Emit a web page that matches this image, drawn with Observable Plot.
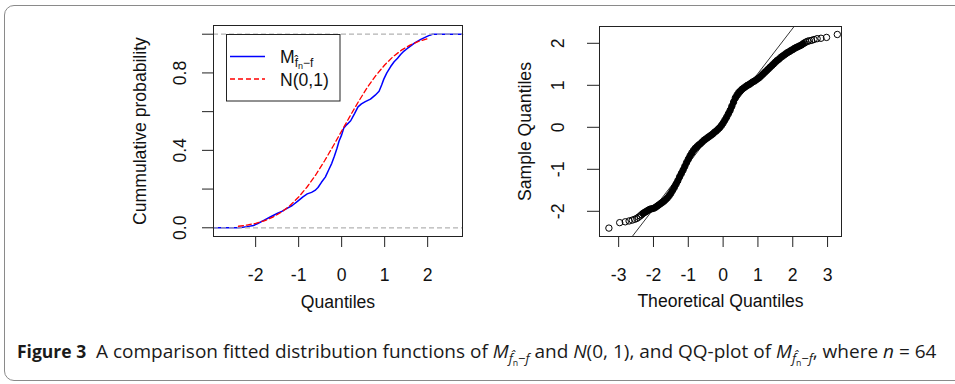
<!DOCTYPE html>
<html><head><meta charset="utf-8">
<script src="https://cdn.jsdelivr.net/npm/d3@7"></script>
<script src="https://cdn.jsdelivr.net/npm/@observablehq/plot@0.6"></script>
<style>
body{margin:0;background:#fff;}
#wrap{position:relative;width:955px;height:384px;overflow:hidden;background:#fff;}
#border{position:absolute;left:4px;top:5px;width:1000px;height:376px;border:1px solid #8a8a8a;border-radius:10px;box-sizing:border-box;}
#left{position:absolute;left:0;top:0;}
#right{position:absolute;left:480px;top:0;}
#caption{position:absolute;left:17px;top:339px;font-family:"Open Sans",sans-serif;font-size:19px;white-space:nowrap;color:#1a1a1a;line-height:24px;}
#caption b{font-size:17.5px;}
#caption sub{font-size:68%;vertical-align:-0.35em;line-height:0;}
</style></head>
<body><div id="wrap"><div id="border"></div><div id="left"></div><div id="right"></div>
<div id="caption"><b>Figure 3</b>&nbsp;&nbsp;A comparison fitted distribution functions of <i>M</i><sub><i>f&#770;</i><sub>n</sub>&minus;<i>f</i></sub> and <i>N</i>(0, 1), and QQ-plot of <i>M</i><sub><i>f&#770;</i><sub>n</sub>&minus;<i>f</i></sub>, where <i>n</i> = 64</div>
</div>
<script>
// ---- Left panel: empirical CDF of M and N(0,1) CDF ----
const ecdfX = [-2.98,-2.40,-2.30,-2.20,-2.05,-1.95,-1.81,-1.65,-1.50,-1.38,-1.27,-1.15,-1.02,-0.90,-0.80,-0.70,-0.62,-0.55,-0.47,-0.38,-0.30,-0.23,-0.17,-0.11,-0.06,0.00,0.05,0.12,0.21,0.30,0.38,0.46,0.55,0.67,0.78,0.87,0.93,0.98,1.05,1.14,1.22,1.30,1.37,1.45,1.52,1.60,1.70,1.84,1.95,2.05,2.11,2.81];
const ecdfY = [0,0,0.003,0.006,0.012,0.022,0.038,0.057,0.074,0.086,0.100,0.115,0.138,0.160,0.175,0.183,0.193,0.208,0.235,0.262,0.300,0.333,0.370,0.410,0.448,0.480,0.515,0.533,0.553,0.590,0.625,0.640,0.652,0.665,0.685,0.705,0.738,0.768,0.800,0.833,0.858,0.876,0.895,0.913,0.925,0.938,0.955,0.973,0.985,0.995,1.0,1.0];
const normX = [-2.4,-2.2,-2.0,-1.8,-1.6,-1.4,-1.2,-1.0,-0.8,-0.6,-0.4,-0.2,0.0,0.2,0.4,0.6,0.8,1.0,1.2,1.4,1.6,1.8,2.0];
const normY = [0.008,0.014,0.023,0.036,0.055,0.081,0.115,0.159,0.212,0.274,0.345,0.421,0.500,0.579,0.655,0.726,0.788,0.841,0.885,0.919,0.945,0.964,0.977];
const refLines = [0, 1];
const leftXTicks = [-2,-1,0,1,2];
const leftYTicks = [0,0.2,0.4,0.6,0.8,1.0];
const leftYLabels = [0,0.4,0.8];
const legendLabels = ["M", "N(0,1)"];

// ---- Right panel: normal QQ plot ----
const qqTheo = [-3.28,-2.97,-2.81,-2.70,-2.61,-2.54,-2.48,-2.43,-2.38,-2.34,
  -2.30,-2.26,-2.22,-2.18,-2.14,-2.10,-2.05,-2.00,-1.95,-1.90,
  -1.85,-1.80,-1.75,-1.70,-1.65,-1.60,-1.55,-1.50,-1.45,-1.40,
  -1.35,-1.30,-1.25,-1.20,-1.15,-1.10,-1.05,-1.00,-0.95,-0.90,
  -0.85,-0.80,-0.75,-0.70,-0.65,-0.60,-0.55,-0.50,-0.45,-0.40,
  -0.35,-0.30,-0.25,-0.20,-0.15,-0.10,-0.05,0.00,0.05,0.10,
  0.15,0.20,0.25,0.30,0.35,0.40,0.45,0.50,0.55,0.60,
  0.65,0.70,0.75,0.80,0.85,0.90,0.95,1.00,1.05,1.10,
  1.15,1.20,1.25,1.30,1.35,1.40,1.45,1.50,1.55,1.60,
  1.65,1.70,1.75,1.80,1.85,1.90,1.95,2.00,2.05,2.10,
  2.15,2.20,2.25,2.30,2.34,2.38,2.43,2.48,2.54,2.61,
  2.70,2.81,2.97,3.28];
const qqSample = [-2.40,-2.27,-2.25,-2.23,-2.21,-2.19,-2.17,-2.14,-2.11,-2.08,
  -2.05,-2.03,-2.01,-1.99,-1.97,-1.95,-1.94,-1.93,-1.91,-1.88,
  -1.85,-1.82,-1.79,-1.76,-1.72,-1.68,-1.63,-1.57,-1.50,-1.43,
  -1.35,-1.27,-1.18,-1.10,-1.02,-0.93,-0.84,-0.76,-0.68,-0.61,
  -0.55,-0.50,-0.46,-0.42,-0.39,-0.35,-0.31,-0.28,-0.25,-0.22,
  -0.19,-0.16,-0.12,-0.09,-0.05,-0.01,0.04,0.10,0.17,0.24,
  0.32,0.40,0.50,0.60,0.70,0.77,0.83,0.87,0.91,0.94,
  0.97,1.00,1.02,1.05,1.08,1.10,1.13,1.16,1.19,1.23,
  1.27,1.31,1.35,1.39,1.43,1.47,1.51,1.55,1.59,1.62,
  1.66,1.69,1.72,1.75,1.78,1.80,1.83,1.85,1.88,1.90,
  1.92,1.94,1.96,1.99,2.01,2.03,2.05,2.06,2.07,2.09,
  2.11,2.12,2.14,2.21];
const qqLineX = [-2.61, 2.03];
const qqLineY = [-2.60, 2.39];
const rightXTicks = [-3,-2,-1,0,1,2,3];
const rightYTicks = [-2,-1,0,1,2];

const FONT = "'Liberation Sans', Arial, sans-serif";
const FS = 17.6;
const fmt = d => d < 0 ? "-" + Math.abs(d) : String(d);

const ecdf = ecdfX.map((x, i) => ({x, y: ecdfY[i]}));
const norm = normX.map((x, i) => ({x, y: normY[i]}));

const left = Plot.plot({
  width: 470, height: 320,
  marginLeft: 213, marginRight: 8, marginTop: 25, marginBottom: 84,
  style: {fontFamily: FONT, fontSize: FS + "px", background: "transparent", overflow: "visible", color: "#222"},
  x: {domain: [-2.98, 2.81], axis: null},
  y: {domain: [-0.045, 1.045], axis: null},
  marks: [
    Plot.line(ecdf, {x: "x", y: "y", stroke: "#0000ff", strokeWidth: 1.5}),
    Plot.ruleY(refLines, {y: d => d, stroke: "#b3b3b3", strokeWidth: 1.2, strokeDasharray: "5,3"}),
    Plot.line(norm, {x: "x", y: "y", stroke: "#ff0000", strokeWidth: 1.3, strokeDasharray: "5,3"}),
    Plot.frame({stroke: "#222"}),
    Plot.axisX({ticks: leftXTicks, tickSize: 11, tickFormat: () => "", label: null, stroke: "#222"}),
    Plot.axisY({ticks: leftYTicks, tickSize: 11, tickFormat: () => "", label: null, stroke: "#222"}),
    Plot.text(leftXTicks, {x: d => d, text: fmt, frameAnchor: "bottom", dy: 39, lineAnchor: "middle", textAnchor: "middle", fontSize: FS, fill: "#111"}),
    Plot.text(leftYLabels, {y: d => d, text: d => d.toFixed(1), frameAnchor: "left", dx: -33, rotate: -90, lineAnchor: "middle", textAnchor: "middle", fontSize: FS, fill: "#111"}),
    Plot.text(["Quantiles"], {frameAnchor: "bottom", dy: 66, lineAnchor: "middle", textAnchor: "middle", fontSize: FS, fill: "#111"}),
    Plot.text(["Cummulative probability"], {frameAnchor: "left", dx: -73, rotate: -90, lineAnchor: "middle", textAnchor: "middle", fontSize: FS, fill: "#111"})
  ]
});
document.getElementById("left").appendChild(left);

// legend (drawn into the left svg)
const svgL = d3.select(left);
const lg = svgL.append("g").attr("font-family", FONT).attr("font-size", FS).attr("fill", "#111").attr("text-anchor", "start");
lg.append("rect").attr("x", 226.5).attr("y", 34.5).attr("width", 113.5).attr("height", 66.5).attr("fill", "#fff").attr("stroke", "#222");
lg.append("line").attr("x1", 230).attr("x2", 265).attr("y1", 56.5).attr("y2", 56.5).attr("stroke", "#0000ff").attr("stroke-width", 1.5);
lg.append("line").attr("x1", 230).attr("x2", 265).attr("y1", 79).attr("y2", 79).attr("stroke", "#ff0000").attr("stroke-width", 1.3).attr("stroke-dasharray", "5,3");
const t1 = lg.append("text").attr("x", 280).attr("y", 62.5);
t1.append("tspan").text(legendLabels[0]);
t1.append("tspan").attr("font-size", 12).attr("dy", 4).text("f\u0302");
t1.append("tspan").attr("font-size", 9).attr("dy", 2).text("n");
t1.append("tspan").attr("font-size", 12).attr("dy", -2).text("\u2212f");
lg.append("text").attr("x", 280).attr("y", 85.5).text(legendLabels[1]);

const qq = qqTheo.map((x, i) => ({x, y: qqSample[i]}));
const band = qq.filter(d => Math.abs(d.x) <= 2.3);
const qqLine = qqLineX.map((x, i) => ({x, y: qqLineY[i]}));

const right = Plot.plot({
  width: 475, height: 320,
  marginLeft: 119, marginRight: 114, marginTop: 26, marginBottom: 84,
  style: {fontFamily: FONT, fontSize: FS + "px", background: "transparent", overflow: "visible", color: "#222"},
  x: {domain: [-3.55, 3.40], axis: null},
  y: {domain: [-2.6, 2.4], axis: null},
  marks: [
    Plot.line(band, {x: "x", y: "y", stroke: "#000", strokeWidth: 6}),
    Plot.dot(qq, {x: "x", y: "y", r: 3.2, stroke: "#000", strokeWidth: 1, fill: "none"}),
    Plot.line(qqLine, {x: "x", y: "y", stroke: "#000", strokeWidth: 0.8, clip: true}),
    Plot.frame({stroke: "#222"}),
    Plot.axisX({ticks: rightXTicks, tickSize: 11, tickFormat: () => "", label: null, stroke: "#222"}),
    Plot.axisY({ticks: rightYTicks, tickSize: 12, tickFormat: () => "", label: null, stroke: "#222"}),
    Plot.text(rightXTicks, {x: d => d, text: fmt, frameAnchor: "bottom", dy: 39, lineAnchor: "middle", textAnchor: "middle", fontSize: FS, fill: "#111"}),
    Plot.text(rightYTicks, {y: d => d, text: fmt, frameAnchor: "left", dx: -41, rotate: -90, lineAnchor: "middle", textAnchor: "middle", fontSize: FS, fill: "#111"}),
    Plot.text(["Theoretical Quantiles"], {frameAnchor: "bottom", dy: 65, lineAnchor: "middle", textAnchor: "middle", fontSize: FS, fill: "#111"}),
    Plot.text(["Sample Quantiles"], {frameAnchor: "left", dx: -74, rotate: -90, lineAnchor: "middle", textAnchor: "middle", fontSize: FS, fill: "#111"})
  ]
});
document.getElementById("right").appendChild(right);
</script>
</body></html>
